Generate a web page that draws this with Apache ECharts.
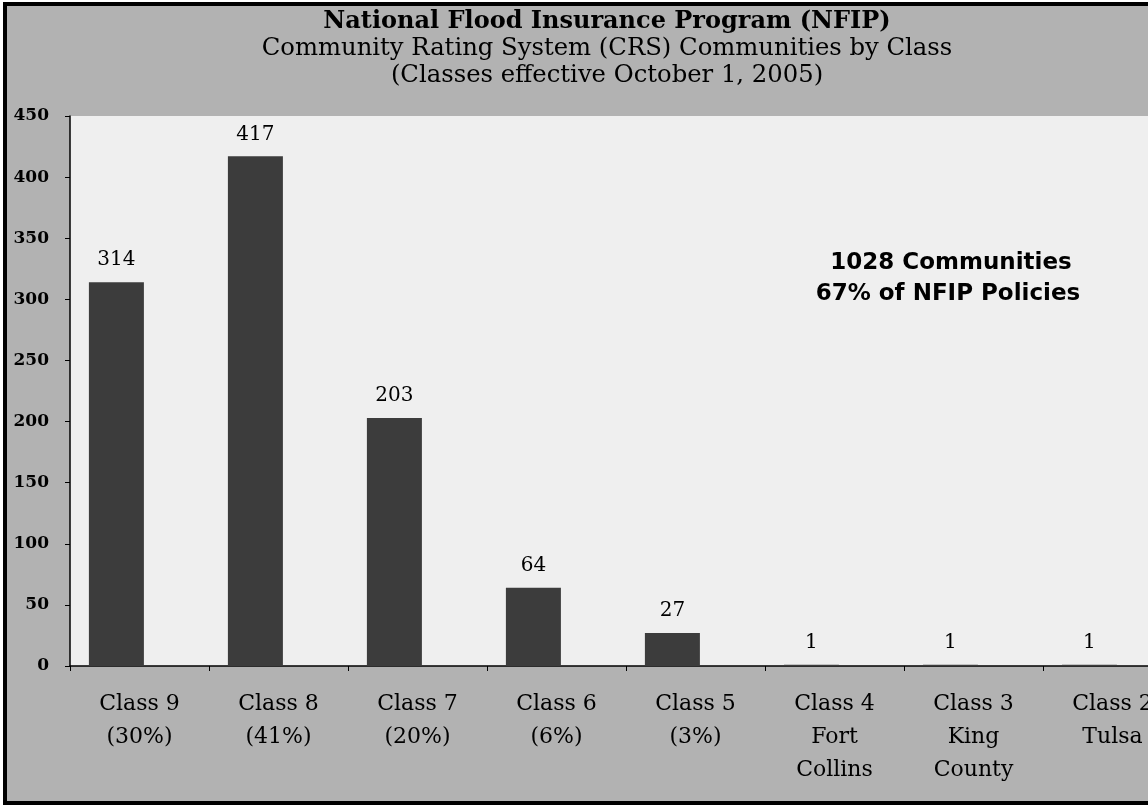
<!DOCTYPE html>
<html>
<head>
<meta charset="utf-8">
<style>
html,body{margin:0;padding:0;background:#ffffff;overflow:hidden;width:1148px;height:810px;}
#chart{width:1182px;height:810px;}
</style>
<script src="https://cdn.jsdelivr.net/npm/echarts@6/dist/echarts.min.js"></script>
</head>
<body>
<div id="chart"></div>
<script>
const titleLines = [
  "National Flood Insurance Program (NFIP)",
  "Community Rating System (CRS) Communities by Class",
  "(Classes effective October 1, 2005)"
];
const categories = [
  "Class 9\n(30%)",
  "Class 8\n(41%)",
  "Class 7\n(20%)",
  "Class 6\n(6%)",
  "Class 5\n(3%)",
  "Class 4\nFort\nCollins",
  "Class 3\nKing\nCounty",
  "Class 2\nTulsa"
];
const communities = [314, 417, 203, 64, 27, 1, 1, 1];
const emptySeries = [null, null, null, null, null, null, null, null];
const annotationLines = ["1028 Communities", "67% of NFIP Policies"];
const yMin = 0, yMax = 450, yStep = 50;

const serif = "DejaVu Serif";
const sans = "DejaVu Sans";

const chart = echarts.init(document.getElementById('chart'), null, {renderer: 'canvas'});
chart.setOption({
  animation: false,
  backgroundColor: '#ffffff',
  title: {
    text: '{a|' + titleLines[0] + '}\n{b|' + titleLines[1] + '}\n{b|' + titleLines[2] + '}',
    left: 602,
    top: 4,
    textAlign: 'center',
    textStyle: {
      fontFamily: serif,
      fontSize: 24,
      color: '#000',
      lineHeight: 26.5,
      rich: {
        a: {fontFamily: serif, fontSize: 24, fontWeight: 'bold', color: '#000', lineHeight: 26.5},
        b: {fontFamily: serif, fontSize: 24.3, fontWeight: 'normal', color: '#000', lineHeight: 26.5}
      }
    }
  },
  graphic: [
    {
      type: 'rect',
      z: -10,
      silent: true,
      shape: {x: 5, y: 4, width: 1240, height: 799},
      style: {fill: '#b2b2b2', stroke: '#000', lineWidth: 4}
    },
    {
      type: 'text',
      z: 10,
      x: 951, y: 263,
      style: {
        text: annotationLines[0],
        fontFamily: sans, fontSize: 23, fontWeight: 'bold',
        fill: '#000', align: 'center', verticalAlign: 'middle'
      }
    },
    {
      type: 'text',
      z: 10,
      x: 948, y: 294,
      style: {
        text: annotationLines[1],
        fontFamily: sans, fontSize: 23, fontWeight: 'bold',
        fill: '#000', align: 'center', verticalAlign: 'middle'
      }
    }
  ],
  grid: {
    left: 70,
    right: 0,
    top: 116,
    bottom: 144,
    show: true,
    backgroundColor: '#efefef',
    borderWidth: 0
  },
  xAxis: {
    type: 'category',
    data: categories,
    axisLine: {lineStyle: {color: '#000', width: 1.5}},
    axisTick: {show: true, interval: 0, alignWithLabel: false, length: 5, lineStyle: {color: '#000'}},
    axisLabel: {
      interval: 0,
      margin: 22,
      fontFamily: serif,
      fontSize: 22,
      lineHeight: 33,
      color: '#000'
    },
    splitLine: {show: false}
  },
  yAxis: {
    type: 'value',
    min: yMin,
    max: yMax,
    interval: yStep,
    axisLine: {show: true, lineStyle: {color: '#000', width: 1.5}},
    axisTick: {show: true, length: 5, lineStyle: {color: '#000'}},
    axisLabel: {
      margin: 21,
      fontFamily: serif,
      fontSize: 17,
      fontWeight: 'bold',
      color: '#000'
    },
    splitLine: {show: false}
  },
  series: [
    {
      name: 'Communities',
      type: 'bar',
      data: communities,
      barWidth: 55,
      barGap: '-16%',
      itemStyle: {color: '#3c3c3c'},
      label: {
        show: true,
        position: 'top',
        distance: 12,
        fontFamily: serif,
        fontSize: 20,
        color: '#000'
      }
    },
    {
      name: 'spacer',
      type: 'bar',
      data: emptySeries,
      barWidth: 55,
      itemStyle: {color: 'transparent'},
      silent: true
    }
  ]
});
</script>
</body>
</html>
